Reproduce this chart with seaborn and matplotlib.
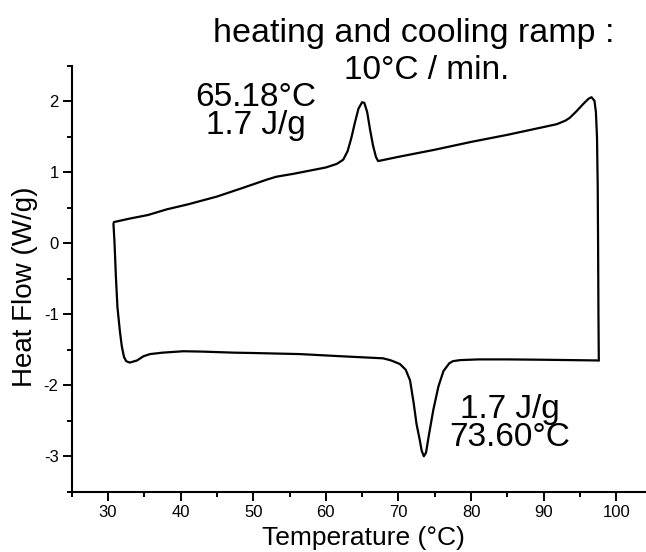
import numpy as np
import pandas as pd
import matplotlib
matplotlib.use('Agg')
import matplotlib.pyplot as plt
import seaborn as sns

# heating run (upper branch), temperature in degC and heat flow in W/g
heat_T = [30.8, 33.0, 35.5, 38.1, 41.0, 45.0, 48.5, 51.9, 53.2, 55.5, 58.0, 60.0,
          61.5, 62.4, 63.0, 63.5, 64.0, 64.5, 65.0, 65.3, 65.7, 66.1, 66.5, 66.9,
          67.2, 70.0, 75.0, 80.0, 85.0, 90.0, 91.8, 93.0, 93.6, 94.5, 95.5, 96.2,
          96.6, 97.0, 97.2, 97.35, 97.45, 97.5, 97.55, 97.6]
heat_HF = [0.30, 0.35, 0.40, 0.48, 0.55, 0.66, 0.78, 0.90, 0.94, 0.98, 1.03, 1.07,
           1.12, 1.18, 1.30, 1.48, 1.70, 1.90, 1.99, 1.98, 1.85, 1.60, 1.38, 1.22,
           1.16, 1.22, 1.32, 1.43, 1.53, 1.64, 1.68, 1.73, 1.77, 1.86, 1.97, 2.04,
           2.06, 2.01, 1.85, 1.50, 0.80, 0.00, -1.00, -1.65]

# cooling run (lower branch)
cool_T = [97.6, 90.0, 85.0, 81.0, 78.5, 77.5, 77.0, 76.2, 75.5, 74.8, 74.2, 73.8,
          73.5, 73.2, 72.9, 72.5, 72.1, 71.6, 71.0, 70.2, 69.0, 67.9, 62.0, 56.4,
          50.0, 47.3, 43.0, 40.4, 37.5, 35.8, 34.9, 34.0, 33.0, 32.5, 32.2, 31.9,
          31.65, 31.3, 31.1, 30.9, 30.75]
cool_HF = [-1.65, -1.64, -1.635, -1.635, -1.645, -1.66, -1.69, -1.80, -2.02, -2.35,
           -2.70, -2.95, -3.00, -2.92, -2.75, -2.55, -2.25, -1.93, -1.78, -1.70,
           -1.65, -1.62, -1.59, -1.56, -1.545, -1.54, -1.525, -1.52, -1.54, -1.56,
           -1.59, -1.65, -1.68, -1.66, -1.60, -1.45, -1.25, -0.90, -0.50, 0.00, 0.28]

heat = pd.DataFrame({'T': heat_T, 'HF': heat_HF})
cool = pd.DataFrame({'T': cool_T, 'HF': cool_HF})

sns.set_style('ticks')
plt.rcParams['font.family'] = ['Liberation Sans', 'DejaVu Sans']
plt.rcParams['axes.unicode_minus'] = False
plt.rcParams['text.color'] = 'black'
plt.rcParams['axes.labelcolor'] = 'black'
plt.rcParams['xtick.color'] = 'black'
plt.rcParams['ytick.color'] = 'black'

fig = plt.figure(figsize=(6.46, 5.52), dpi=100)
ax = fig.add_axes([0.111, 0.1092, 0.889, 0.7712])

sns.lineplot(data=heat, x='T', y='HF', sort=False, estimator=None, color='black', lw=1.6, ax=ax)
sns.lineplot(data=cool, x='T', y='HF', sort=False, estimator=None, color='black', lw=1.6, ax=ax)

ax.set_xlim(25, 104.1)
ax.set_ylim(-3.5, 2.5)
ax.set_xticks(np.arange(30, 101, 10))
ax.set_xticks(np.arange(25, 104, 5), minor=True)
ax.set_yticks([-3, -2, -1, 0, 1, 2])
ax.set_yticks(np.arange(-3.5, 2.51, 0.5), minor=True)
ax.tick_params(which='major', direction='out', length=6.5, width=1.4, labelsize=12, pad=3)
ax.tick_params(which='minor', direction='out', length=3.5, width=1.4)
for s in ['left', 'bottom']:
    ax.spines[s].set_linewidth(1.5)
    ax.spines[s].set_color('black')
sns.despine(ax=ax)

ax.set_xlabel('Temperature (°C)', fontsize=19)
ax.set_ylabel('Heat Flow (W/g)', fontsize=20)
ax.xaxis.set_label_coords(0.508, -0.08)
ax.yaxis.set_label_coords(-0.0595, 0.481)

fs = 24
ax.text(72.05, 2.835, 'heating and cooling ramp :', fontsize=24.5, ha='center', va='baseline', clip_on=False)
ax.text(73.9, 2.32, '10°C / min.', fontsize=fs, ha='center', va='baseline')
ax.text(50.3, 1.863, '65.18°C\n1.7 J/g', fontsize=fs, ha='center', va='center',
        multialignment='center', linespacing=0.87)
ax.text(85.3, -2.54, '1.7 J/g\n73.60°C', fontsize=fs, ha='center', va='center',
        multialignment='center', linespacing=0.87)

fig.savefig('out.png', dpi=100)
